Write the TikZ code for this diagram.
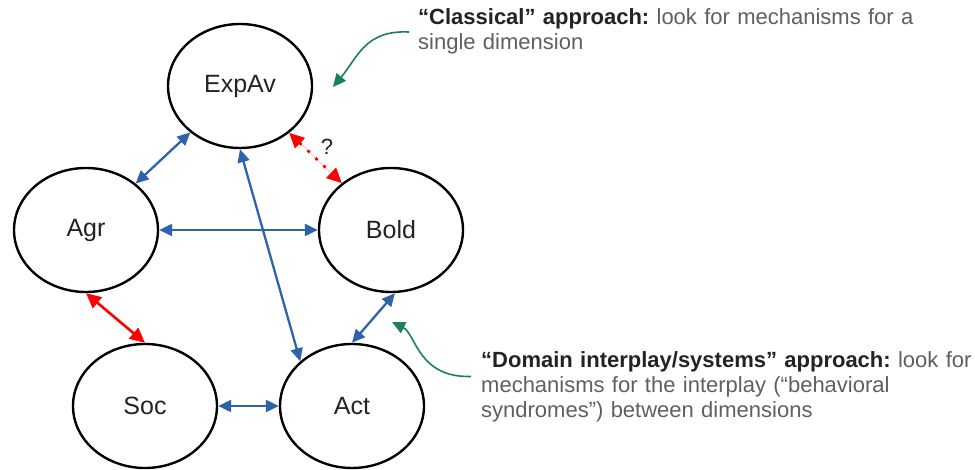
\documentclass[tikz,border=0pt]{standalone}
\usepackage{fontspec}
\setmainfont{Liberation Sans}
\usetikzlibrary{shapes.geometric,arrows.meta}

\definecolor{linkblue}{RGB}{46,98,170}
\definecolor{noteteal}{RGB}{24,128,96}
\definecolor{txtgray}{RGB}{95,95,95}
\definecolor{txtdark}{RGB}{35,35,35}
\frenchspacing

\begin{document}
\begin{tikzpicture}[
  x=1pt, y=1pt,
  trait/.style={ellipse, draw=black, line width=2.4pt, minimum width=144pt,
    minimum height=124pt, inner sep=0pt, text=txtdark,
    font=\fontsize{25}{28}\selectfont},
  link/.style={draw=linkblue, line width=2.3pt,
    {Triangle[length=13pt,width=12pt]}-{Triangle[length=13pt,width=12pt]}},
  clash/.style={draw=red, fill=red, line width=2.6pt,
    {Triangle[length=15pt,width=14pt]}-{Triangle[length=15pt,width=14pt]}},
  hint/.style={draw=noteteal, line width=1.6pt, -{Triangle[length=13pt,width=12pt]}},
  note/.style={anchor=north west, align=left, text=txtgray,
    font=\fontsize{22}{25}\selectfont},
]

\useasboundingbox (0,0) rectangle (975,469);

% ===== Trait nodes ============================================================
\node[trait] (expav) at (240,383) {ExpAv};
\node[trait] (agr)   at (86,239)  {Agr};
\node[trait] (bold)  at (391,239) {Bold};
\node[trait] (soc)   at (145,63)  {Soc};
\node[trait] (act)   at (352,63)  {Act};

% ===== Correlations between dimensions ========================================
\draw[link] (expav) -- (agr);
\draw[link] (agr) -- (bold);
\draw[link] (expav.south) -- (act.north west);
\draw[link] ([xshift=4pt]bold.south) -- (act.north);
\draw[link] (soc) -- (act);

% Conflicting links
\draw[clash] (agr.south) -- (soc.north);
\draw[clash, dash pattern=on 3pt off 8pt] (expav) -- (bold)
  node[pos=0.55, above right, text=txtdark, font=\fontsize{22}{24}\selectfont,
       xshift=-2pt, yshift=1pt] (qm) {?};

% ===== Annotations ============================================================
\node[note, text width=560pt, inner sep=0pt] (classical) at (418,461)
  {\textbf{\color{txtdark}“Classical” approach:} look for mechanisms for a\\
   single dimension};
\node[note, text width=560pt, inner sep=0pt] (domain) at (481,118)
  {\textbf{\color{txtdark}“Domain interplay/systems” approach:} look for\\
   mechanisms for the interplay (“behavioral\\
   syndromes”) between dimensions};

\coordinate (classical-tip) at (333,382);
\coordinate (domain-tip) at (392,147);
\draw[hint] ([xshift=-9pt,yshift=-24pt]classical.north west)
  .. controls (365,439) and (358,412) .. (classical-tip);
\draw[hint] ([xshift=-10pt,yshift=10pt]domain.west)
  .. controls (418,91) and (416,135) .. (domain-tip);

\end{tikzpicture}
\end{document}
